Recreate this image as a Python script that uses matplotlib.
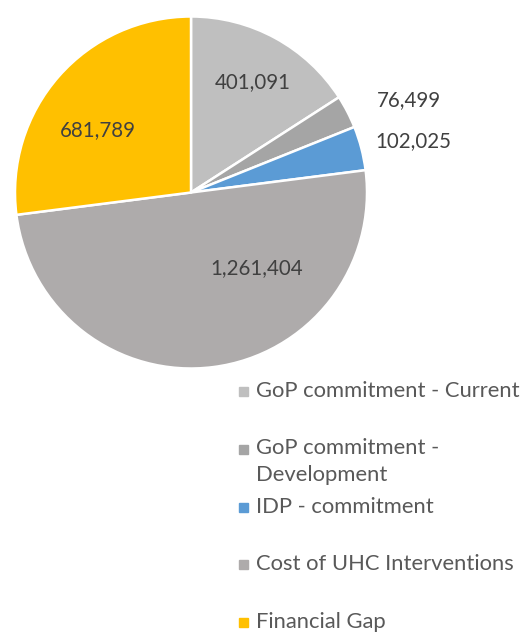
import numpy as np
import matplotlib
matplotlib.use("Agg")
import matplotlib.pyplot as plt

plt.rcParams['font.family'] = ['Lato', 'DejaVu Sans']

# data
categories = ['GoP commitment - Current', 'GoP commitment -\nDevelopment',
              'IDP - commitment', 'Cost of UHC Interventions', 'Financial Gap']
values = [401091, 76499, 102025, 1261404, 681789]
colors = ['#BFBFBF', '#A5A5A5', '#5B9BD5', '#AEABAB', '#FFC000']

# where the value labels sit (pie radius = 1)
label_pos = [(0.352, 0.625), (1.239, 0.523), (1.261, 0.290),
             (0.375, -0.432), (-0.528, 0.352)]

W, H = 522, 632
fig = plt.figure(figsize=(W / 100, H / 100), dpi=100)
ax = fig.add_axes([15 / W, (H - 369) / H, 352 / W, 353 / H])

wedges, _ = ax.pie(values, colors=colors, startangle=90, counterclock=False,
                   wedgeprops=dict(edgecolor='white', linewidth=1.8))
ax.set_xlim(-1, 1)
ax.set_ylim(-1, 1)
ax.set_aspect('equal')
ax.axis('off')

for v, (x, y) in zip(values, label_pos):
    ax.text(x, y, f'{v:,}', ha='center', va='center', fontsize=14.8,
            color='#404040')

# legend, hand spaced like the original (y of first text line, px from top)
legend_y = [391, 449, 507, 564, 622]
for c, lab, y in zip(colors, categories, legend_y):
    fig.patches.append(plt.Rectangle((239 / W, 1 - (y + 4.5) / H), 9 / W, 9 / H,
                                     transform=fig.transFigure, color=c))
    if '\n' in lab:
        fig.text(256 / W, 1 - (y - 11) / H, lab, ha='left', va='top',
                 fontsize=15.8, color='#595959', linespacing=1.45)
    else:
        fig.text(256 / W, 1 - y / H, lab, ha='left', va='center',
                 fontsize=15.8, color='#595959')

fig.savefig('out.png', dpi=100)
